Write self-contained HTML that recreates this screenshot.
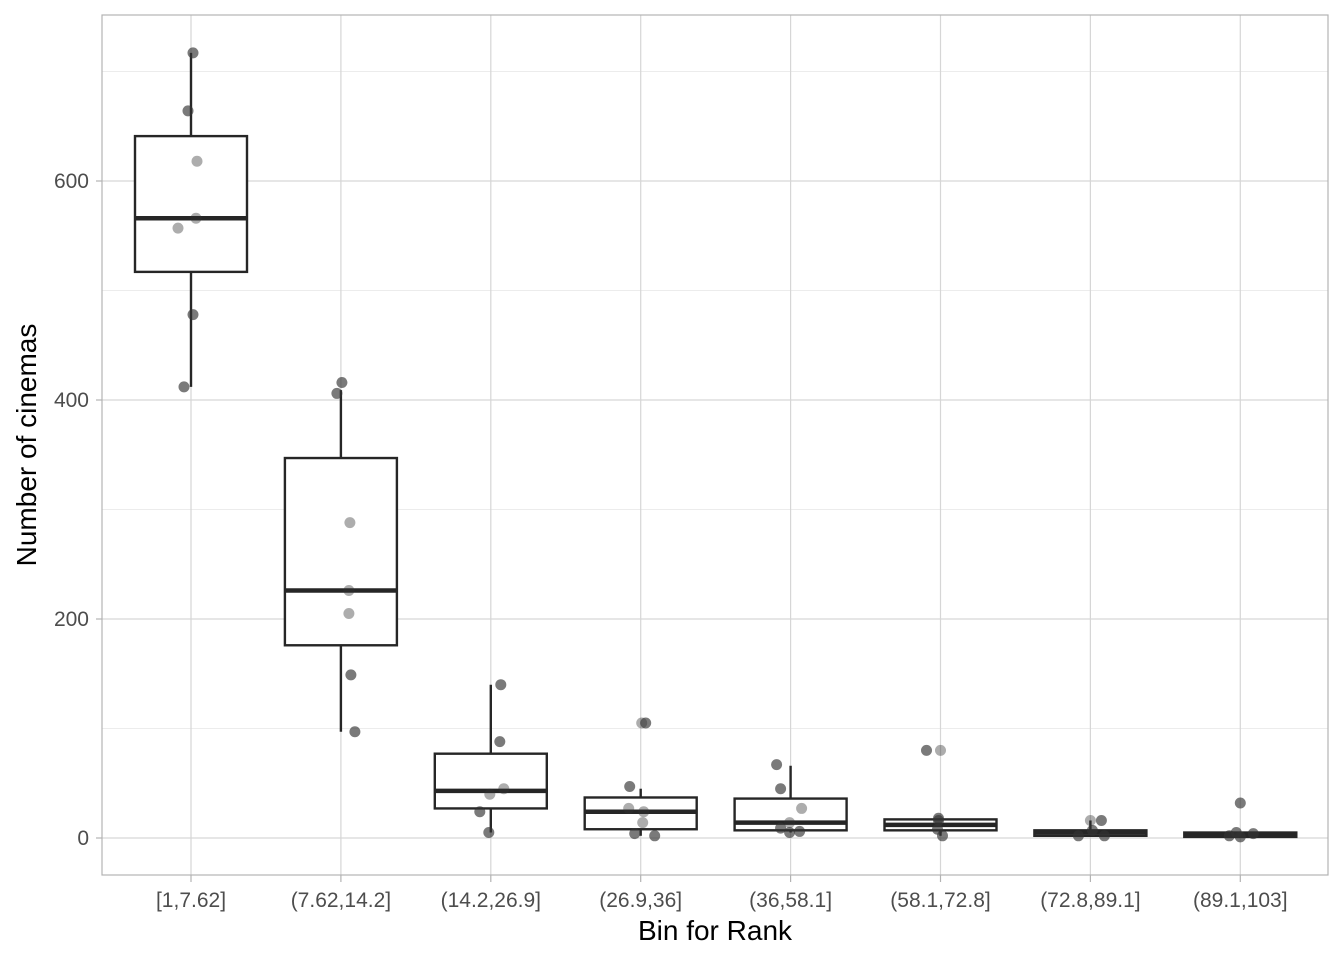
<!DOCTYPE html>
<html><head><meta charset="utf-8"><style>
body{margin:0;background:#fff}
svg text{font-family:"Liberation Sans",Arial,sans-serif}
</style></head><body>
<svg id="chart" width="1344" height="960"></svg>
<script>
const categories=["[1,7.62]","(7.62,14.2]","(14.2,26.9]","(26.9,36]","(36,58.1]","(58.1,72.8]","(72.8,89.1]","(89.1,103]"];
const q1=[517,176,27,8,7,7,2,1];
const median=[566,226,43,24,14,12,5,3];
const q3=[641,347,77,37,36,17,7,5];
const whiskLo=[412,97,5,2,5,2,1,1];
const whiskHi=[717,409,140,45,66,18,16,5];
const ptCat=[0,0,0,0,0,0,0,1,1,1,1,1,1,1,2,2,2,2,2,2,3,3,3,3,3,3,3,3,4,4,4,4,4,4,4,5,5,5,5,5,5,6,6,6,6,6,7,7,7,7,7];
const ptVal=[717,664,618,566,557,478,412,416,406,288,226,205,149,97,140,88,45,40,24,5,105,105,47,27,24,14,4,2,67,45,27,14,9,6,5,80,80,18,16,8,2,16,16,2,7,2,32,5,2,4,1];
const ptJit=[2,-3,6,5,-13,2,-7,1,-4,9,8,8,10,14,10,9,13,-1,-11,-2,1,5,-11,-12,3,2,-6,14,-14,-10,11,-1,-10,9,-1,-14,0,-2,-2,-3,2,0,11,-12,2,14,0,-4,-11,13,0];
const ptDark=[1,1,0,0,0,1,1,1,1,0,0,0,1,1,1,1,0,0,1,1,0,1,1,0,0,0,1,1,1,1,0,0,1,1,1,1,0,1,1,1,1,0,1,1,1,1,1,1,1,1,1];
const yTicks=[0,200,400,600];
const yMinor=[100,300,500,700];
const L=102,R=1328,T=15,B=875;
const y=v=>838-v*1.095;
const x=i=>191+i*149.9;
const svg=document.getElementById('chart');
const NS="http://www.w3.org/2000/svg";
function mk(tag,a,parent){const e=document.createElementNS(NS,tag);for(const k in a)e.setAttribute(k,a[k]);(parent||svg).appendChild(e);return e;}
const bg=mk('rect',{x:L,y:T,width:R-L,height:B-T,fill:'#fff'});


yMinor.forEach(v=>{const g=mk('line',{x1:L,x2:R,y1:y(v),y2:y(v),stroke:'#e6e6e6','stroke-width':0.8});

});
yTicks.forEach(v=>{const g=mk('line',{x1:L,x2:R,y1:y(v),y2:y(v),stroke:'#d6d6d6','stroke-width':1.2});


const tk=mk('line',{x1:L-6,x2:L,y1:y(v),y2:y(v),stroke:'#b3b3b3','stroke-width':1.2});


const t=mk('text',{x:89,y:y(v)+7,'text-anchor':'end','font-size':21,fill:'#4d4d4d'});t.textContent=v;

});
categories.forEach((c,i)=>{const g=mk('line',{x1:x(i),x2:x(i),y1:T,y2:B,stroke:'#d6d6d6','stroke-width':1.2});


const tk=mk('line',{x1:x(i),x2:x(i),y1:B,y2:B+7,stroke:'#b3b3b3','stroke-width':1.2});


const t=mk('text',{x:x(i),y:907,'text-anchor':'middle','font-size':21,fill:'#4d4d4d'});t.textContent=c;

});
categories.forEach((c,i)=>{
 const w=mk('line',{x1:x(i),x2:x(i),y1:y(whiskHi[i]),y2:y(whiskLo[i]),stroke:'#262626','stroke-width':2.4});
 
 
 const b=mk('rect',{x:x(i)-56,y:y(q3[i]),width:112,height:y(q1[i])-y(q3[i]),fill:'#fff',stroke:'#262626','stroke-width':2.4});
 
 
 const m=mk('line',{x1:x(i)-56,x2:x(i)+56,y1:y(median[i]),y2:y(median[i]),stroke:'#262626','stroke-width':4.5});
 
 
});
ptVal.forEach((v,k)=>{const p=mk('circle',{cx:x(ptCat[k])+ptJit[k],cy:y(v),r:5.5,fill:'#333','fill-opacity':ptDark[k]?0.65:0.4});

});
const br=mk('rect',{x:L,y:T,width:R-L,height:B-T,fill:'none',stroke:'#b3b3b3','stroke-width':1.2});


const xt=mk('text',{x:715,y:940,'text-anchor':'middle','font-size':28,fill:'#000'});xt.textContent='Bin for Rank';


const yt=mk('text',{x:0,y:0,transform:'translate(36,445) rotate(-90)','text-anchor':'middle','font-size':28,fill:'#000'});yt.textContent='Number of cinemas';


</script>
</body></html>
